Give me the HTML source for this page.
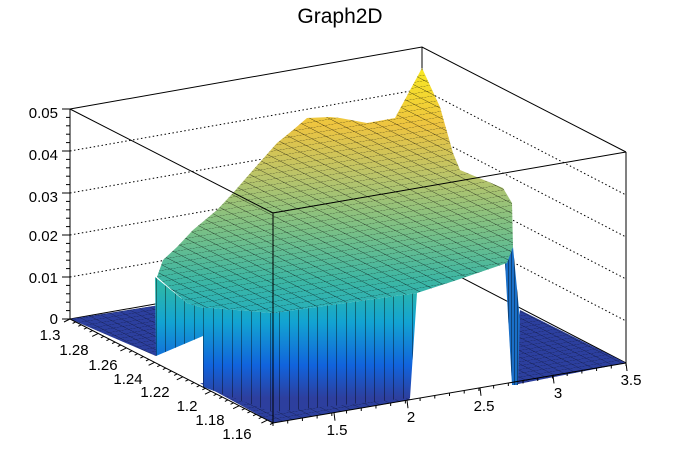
<!DOCTYPE html>
<html><head><meta charset="utf-8"><style>
html,body{margin:0;background:#fff;width:696px;height:472px;overflow:hidden}
svg{display:block;font-family:"Liberation Sans",sans-serif;overflow:hidden}
</style></head><body>
<svg width="696" height="472" viewBox="0 0 696 472" xmlns="http://www.w3.org/2000/svg">
<defs>
<linearGradient id="gs" x1="0" y1="60" x2="0" y2="320" gradientUnits="userSpaceOnUse">
<stop offset="0" stop-color="#f9ee1e"/>
<stop offset="0.25" stop-color="#eec440"/>
<stop offset="0.45" stop-color="#b9c46a"/>
<stop offset="0.65" stop-color="#7bc085"/>
<stop offset="0.85" stop-color="#3cb6a4"/>
<stop offset="1" stop-color="#22aec0"/>
</linearGradient>
<linearGradient id="gw" x1="0" y1="290" x2="0" y2="398" gradientUnits="userSpaceOnUse">
<stop offset="0" stop-color="#2ab5ad"/>
<stop offset="0.3" stop-color="#12a3d2"/>
<stop offset="0.7" stop-color="#1163dc"/>
<stop offset="1" stop-color="#2d3f9e"/>
</linearGradient>
<pattern id="pm" patternUnits="userSpaceOnUse" width="10" height="10" patternTransform="matrix(1.41 -0.24 -0.81 -0.42 273 313)">
<path d="M0 0H10M0 0V10" stroke="#000" stroke-opacity="0.75" stroke-width="0.9" fill="none"/>
</pattern>
<pattern id="pf" patternUnits="userSpaceOnUse" width="10" height="10" patternTransform="matrix(0.97 -0.165 -0.56 -0.286 273 423)">
<path d="M0 0H10M0 0V10" stroke="#000" stroke-opacity="0.6" stroke-width="1.1" fill="none"/>
</pattern>
<pattern id="pw" patternUnits="userSpaceOnUse" width="9.5" height="200" x="156" y="0">
<path d="M0 0V200" stroke="#000" stroke-width="0.8"/>
</pattern>
<pattern id="prw" patternUnits="userSpaceOnUse" width="3" height="200" x="505" y="0">
<path d="M0 0V200" stroke="#000" stroke-width="0.8"/>
</pattern>
</defs>
<text x="340" y="23" font-size="21" text-anchor="middle">Graph2D</text>
<g stroke="#000" fill="none" stroke-width="1">
<path d="M70 109V319M70 109L422 47L626 152M422 47V257M70 319L422 257L626 363M626 152V363"/>
<path stroke-dasharray="1.5,2.5" d="M70 277L422 215L626 321M70 235L422 173L626 279M70 193L422 131L626 237M70 151L422 89L626 195"/>
</g>
<g>
<polygon points="70,319 160,305 156,356" fill="#2c3f9e"/>
<polygon points="200,383 273,423 410,400 408,392" fill="#2c3f9e"/>
<polygon points="513,385 626,363 520,310" fill="#2c3f9e"/>
<polygon points="70,319 160,305 156,356" fill="url(#pf)"/>
<polygon points="200,383 273,423 410,400 408,392" fill="url(#pf)"/>
<polygon points="513,385 626,363 520,310" fill="url(#pf)"/>
</g>
<polygon points="155,277 187,303 200,307 273,313 417,293 410,398 273,412 203,387 203,336 156,356" fill="url(#gw)"/>
<polygon points="155,277 187,303 200,307 273,313 417,293 410,398 273,412 203,387 203,336 156,356" fill="url(#pw)"/>
<polygon points="505,263 513,247 520,320 518,385 512,385" fill="#1a6fc8"/>
<polygon points="505,263 513,247 520,320 518,385 512,385" fill="url(#prw)"/>
<polygon points="157,277 163,260 177,247 193,230 217,210 233,193 253,170 277,143 293,130 307,118 330,117 340,118 367,123 395,118 422,68 440,107 453,153 460,170 503,188 512,203 513,247 507,263 457,280 417,293 273,313 200,307 187,303" fill="url(#gs)"/>
<polygon points="157,277 163,260 177,247 193,230 217,210 233,193 253,170 277,143 293,130 307,118 330,117 340,118 367,123 395,118 422,68 440,107 453,153 460,170 503,188 512,203 513,247 507,263 457,280 417,293 273,313 200,307 187,303" fill="url(#pm)"/>
<g id="front" stroke="#000" fill="none" stroke-width="1">
<path d="M70 109L273 213L626 152M273 213V423M70 319L273 423L626 363"/>
</g>
<g id="labels" font-size="15"></g>
<script>
var NS="http://www.w3.org/2000/svg";
function el(p,t,a){var e=document.createElementNS(NS,t);for(var k in a)e.setAttribute(k,a[k]);p.appendChild(e);return e;}
var fr=document.getElementById('front');
for(var i=0;i<=25;i++){var y=319-i*8.4;el(fr,'line',{x1:70,y1:y,x2:(i%5==0?62:66),y2:y});}
for(var i=0;i<=36;i++){var t=i/36;var x=70+203*t,y=319+104*t;el(fr,'line',{x1:x,y1:y,x2:x-(i%5==0?6:3),y2:y+(i%5==0?3:1.5)});}
for(var i=0;i<=24;i++){var t=i/24;var x=273+353*t,y=423-60*t;el(fr,'line',{x1:x,y1:y,x2:x,y2:y+3});}
[334,407,480,553,626].forEach(function(x){var y=423-60*(x-273)/353;el(fr,'line',{x1:x,y1:y,x2:x+1,y2:y+8});});
var lb=document.getElementById('labels');
function tx(s,x,y,anc){var t=el(lb,'text',{x:x,y:y,'text-anchor':anc||'middle'});t.textContent=s;}
[['0.05',113],['0.04',155],['0.03',197],['0.02',236],['0.01',278],['0',319]].forEach(function(a){tx(a[0],58,a[1]+5,'end');});
[['1.3',50,335],['1.28',74,350],['1.26',103,365],['1.24',128,379],['1.22',155,392],['1.2',187,406],['1.18',210,420],['1.16',237,434]].forEach(function(a){tx(a[0],a[1],a[2]+5);});
[['1.5',337,430],['2',411,417],['2.5',484,406],['3',558,393],['3.5',631,380]].forEach(function(a){tx(a[0],a[1],a[2]+5);});
</script>
</svg>
</body></html>
